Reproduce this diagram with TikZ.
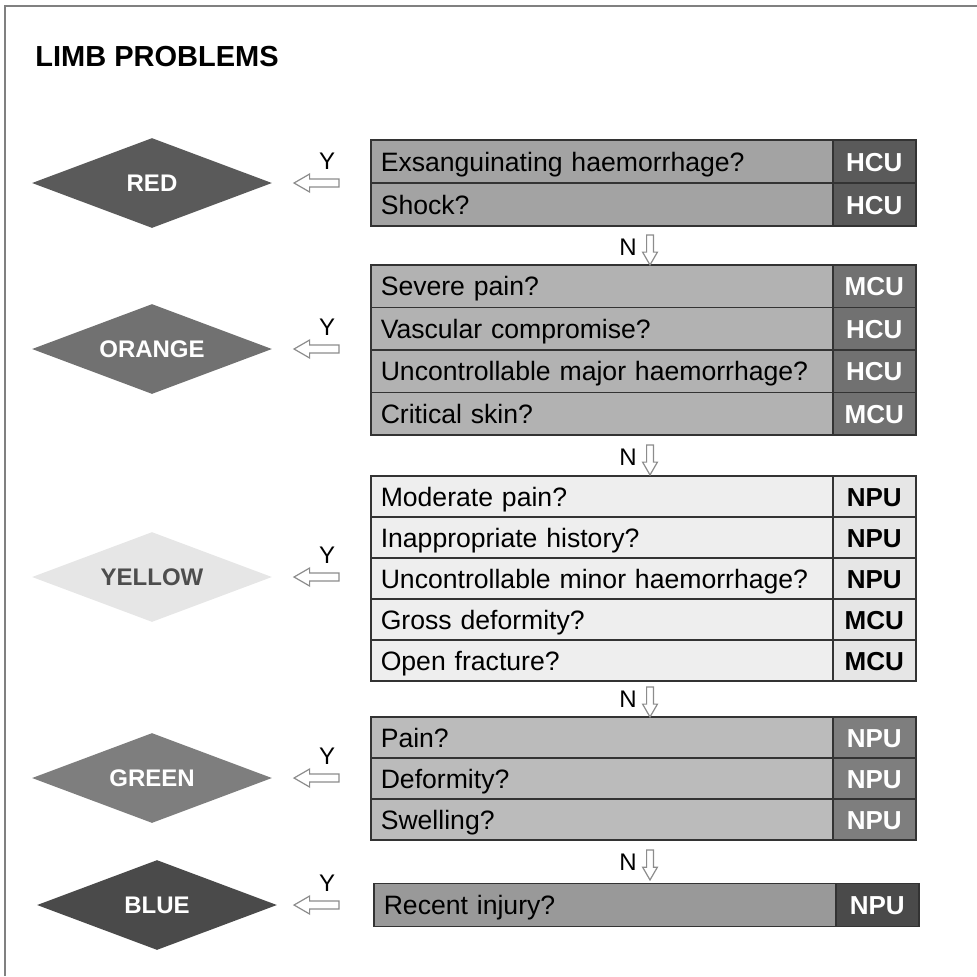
\documentclass[tikz,border=0pt]{standalone}
\usepackage{fontspec}
\setmainfont{Liberation Sans}
\usepackage{tikz}
\usetikzlibrary{shapes,arrows,positioning,calc}

\definecolor{redD}{HTML}{5A5A5A}
\definecolor{redQ}{HTML}{A3A3A3}
\definecolor{orangeD}{HTML}{717171}
\definecolor{orangeQ}{HTML}{B2B2B2}
\definecolor{yellowD}{HTML}{E6E6E6}
\definecolor{yellowQ}{HTML}{EEEEEE}
\definecolor{yellowT}{HTML}{4D4D4D}
\definecolor{greenD}{HTML}{7E7E7E}
\definecolor{greenQ}{HTML}{BBBBBB}
\definecolor{blueD}{HTML}{4A4A4A}
\definecolor{blueQ}{HTML}{999999}

\begin{document}
\begin{tikzpicture}[x=0.5pt, y=-0.5pt,
    triage/.style={diamond, aspect=2.67, minimum width=120pt, minimum height=45pt, inner sep=0pt, text=white, font=\fontsize{12}{13}\selectfont\bfseries},
    question/.style={rectangle, draw=black!80, line width=0.75pt, anchor=west, text width=221pt, inner xsep=5pt, inner ysep=0pt, text height=9.5pt, text depth=0pt, align=left, font=\fontsize{13.3}{15}\selectfont},
    care/.style={rectangle, draw=black!80, line width=0.75pt, anchor=west, minimum width=41.5pt, inner sep=0pt, text height=9.5pt, text depth=0pt, font=\fontsize{13}{15}\selectfont\bfseries},
    yesarrow/.style={single arrow, shape border rotate=180, draw=black!45, fill=white, line width=0.6pt, minimum height=22.5pt, minimum width=8.5pt, inner sep=1.7pt, single arrow head extend=2.5pt, single arrow tip angle=60},
    noarrow/.style={single arrow, shape border rotate=270, draw=black!45, fill=white, line width=0.6pt, minimum height=15pt, minimum width=7pt, inner sep=1.4pt, single arrow head extend=2pt, single arrow tip angle=60},
    yn/.style={font=\fontsize{12}{12}\selectfont, inner sep=0pt}
]
\useasboundingbox (0,0) rectangle (977,976);
\draw[black!50, line width=1pt] (977,6) -- (5,6) -- (5,976);

\node[anchor=west, inner sep=0pt, font=\fontsize{14.5}{18}\selectfont\bfseries] (title) at (35,57) {LIMB PROBLEMS};

% triage levels
\node[triage, fill=redD]    (red)    at (152,183) {RED};
\node[triage, fill=orangeD] (orange) at (152,349) {ORANGE};
\node[triage, fill=yellowD, text=yellowT] (yellow) at (152,577) {YELLOW};
\node[triage, fill=greenD]  (green)  at (152,778) {GREEN};
\node[triage, fill=blueD]   (blue)   at (157,905) {BLUE};

\foreach \c/\y in {red/183, orange/349, yellow/577, green/778, blue/905} {
    \node[yesarrow] (y\c) at (320,\y) {};
    \node[yn] (yl\c) at (327,\y-22) {Y};
}

% questions
\foreach \q/\u [count=\i] in {Exsanguinating haemorrhage?/HCU, Shock?/HCU} {
    \node[question, fill=redQ, minimum height=21.5pt] (redq\i) at (370,{140+(\i-0.5)*43}) {\q};
    \node[care, fill=redD, text=white, minimum height=21.5pt] (redu\i) at (832,{140+(\i-0.5)*43}) {\u};
}
\foreach \q/\u [count=\i] in {Severe pain?/MCU, Vascular compromise?/HCU, Uncontrollable major haemorrhage?/HCU, Critical skin?/MCU} {
    \node[question, fill=orangeQ, minimum height=21.25pt] (orangeq\i) at (370,{265+(\i-0.5)*42.5}) {\q};
    \node[care, fill=orangeD, text=white, minimum height=21.25pt] (orangeu\i) at (832,{265+(\i-0.5)*42.5}) {\u};
}
\foreach \q/\u [count=\i] in {Moderate pain?/NPU, Inappropriate history?/NPU, Uncontrollable minor haemorrhage?/NPU, Gross deformity?/MCU, Open fracture?/MCU} {
    \node[question, fill=yellowQ, minimum height=20.5pt] (yellowq\i) at (370,{476+(\i-0.5)*41}) {\q};
    \node[care, fill=yellowD, minimum height=20.5pt] (yellowu\i) at (832,{476+(\i-0.5)*41}) {\u};
}
\foreach \q/\u [count=\i] in {Pain?/NPU, Deformity?/NPU, Swelling?/NPU} {
    \node[question, fill=greenQ, minimum height=20.5pt] (greenq\i) at (370,{717+(\i-0.5)*41}) {\q};
    \node[care, fill=greenD, text=white, minimum height=20.5pt] (greenu\i) at (832,{717+(\i-0.5)*41}) {\u};
}
\node[question, fill=blueQ, minimum height=21.5pt] (blueq1) at (373,905) {Recent injury?};
\node[care, fill=blueD, text=white, minimum height=21.5pt] (blueu1) at (835,905) {NPU};

% no branches
\foreach \y [count=\i] in {247, 457, 699, 862} {
    \node[yn] (nl\i) at (628,\y) {N};
    \node[noarrow] (n\i) at (650,\y) {};
}
\end{tikzpicture}
\end{document}
